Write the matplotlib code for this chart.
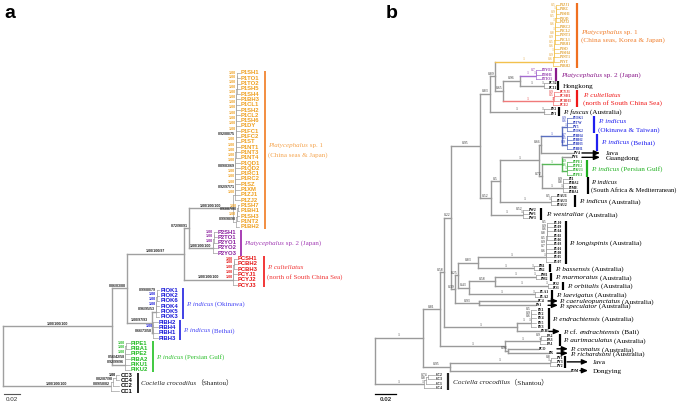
import matplotlib
matplotlib.use('Agg')
import matplotlib.pyplot as plt
from matplotlib.collections import LineCollection
from matplotlib.transforms import offset_copy

SANS = ['Liberation Sans', 'DejaVu Sans']
SERIF = ['Liberation Serif', 'Noto Sans CJK SC', 'DejaVu Serif']

# ---------------- panel a : tips top to bottom, ladder supports ----------------
A_P1 = ['P1SH1', 'P1TO1', 'P1TO2', 'P1SH5', 'P1SH4', 'P1BH3', 'P1CL1', 'P1SH2',
        'P1CL2', 'P1SH6', 'P1DY', 'P1FC1', 'P1FC2', 'P1ST', 'P1NT1', 'P1NT3',
        'P1NT4', 'P1QD1', 'P1QD2', 'P1RC1', 'P1RC2', 'P1SZ', 'P1XM', 'P1ZJ1',
        'P1ZJ2', 'P1SH7', 'P1BH1', 'P1SH3', 'P1NT2', 'P1BH2']
A_P1_SUP = ['1.00', '1.00', '1.00', '1.00', '1.00', '1.00', '1.00', '1.00',
            '1.00', '1.00', '1.00', '1.00', '0.92/88/75', '1.00', '1.00', '1.00',
            '1.00', '1.00', '0.89/83/69', '1.00', '1.00', '1.00', '0.92/97/71', '1.00',
            '1.00', '0.93/87/98', '1.00', '0.99/98/98']
A_P2 = ['P2SH1', 'P2TO1', 'P2YO1', 'P2YO2', 'P2YO3']
A_P2_SUP = ['1.00', '1.00', '1.00', '']
A_PC = ['PCSH1', 'PCBH2', 'PCBH3', 'PCYJ1', 'PCYJ2', 'PCYJ3']
A_PC_SUP = ['1.00', '1.00', '1.00', '1.00', '1.00']
A_OK = ['PIOK1', 'PIOK2', 'PIOK6', 'PIOK4', 'PIOK5', 'PIOK3']
A_OK_SUP = ['0.99/80/79', '1.00', '1.00', '1.00', '']
A_BH = ['PIBH2', 'PIBH4', 'PIBH1', 'PIBH3']
A_BH_SUP = ['', '1.00', '']
A_PG = ['PIPE1', 'PIBA1', 'PIPE2', 'PIBA2', 'PIKU1', 'PIKU2']
A_PG_SUP = ['1.00', '1.00', '1.00', '0.56/42/58', '']
A_CC = ['CC3', 'CC4', 'CC2', 'CC1']
A_CC_SUP = ['1.00', '0.82/87/98', '0.89/58/82']

# ---------------- panel b ----------------
B_P1 = ['P1ZJ1', 'P1RC', 'P1SH1', 'P1QD', 'P1ZJ2', 'P1RC2', 'P1CL2', 'P1NT3',
        'P1CL1', 'P1BH1', 'P1SD', 'P1SH4', 'P1NT1', 'P1YT', 'P1BH2']
B_P1_SUP = ['0.5', '1', '0.9', '0.5', '1', '0.6', '1', '0.8', '0.9', '0.5',
            '0.6', '1', '0.9', '0.6']
B_P2 = ['P2YO2', 'P2SH1', 'P2TO1']
B_P2_SUP = ['0.7', '1']
B_HK = ['PC32', 'PC11']
B_HK_SUP = ['1']
B_PC = ['PCYJ1', 'PCSH1', 'PCBH3', 'PCE2']
B_PC_SUP = ['0.9', '0.5', '1']
B_FU = ['PF2', 'PF1']
B_FU_SUP = ['1']
B_OK = ['PIOK1', 'PITW', 'PY5', 'PIOK2']
B_OK_SUP = ['0.9', '0.6', '1']
B_BH = ['PIBH4', 'PIBH2', 'PIBH3', 'PIBH1']
B_BH_SUP = ['0.7', '0.5', '0.9']
B_PG = ['PIPE1', 'PIPE2', 'PIKU1', 'PIPE3']
B_PG_SUP = ['0.9', '0.6', '1']
B_AFR = ['PI1', 'PIBA2', 'PIME', 'PIBA1']
B_AFR_SUP = ['0.9', '0.8', '1']
B_AUS = ['PIAU1', 'PIAU3', 'PIAU2']
B_AUS_SUP = ['0.5', '1']
B_WES = ['PW2', 'PW1', 'PW3']
B_WES_SUP = ['0.52', '1']
B_LON = ['PL10', 'PL09', 'PL04', 'PL02', 'PL06', 'PL03', 'PL01', 'PL08', 'PL05', 'PL07']
B_LON_SUP = ['0.5', '0.9', '0.6', '0.8', '0.5', '0.9', '0.7', '0.6', '1']
B_BAS = ['PB1', 'PB2']
B_BAS_SUP = ['1']
B_MAR = ['PM1', 'PM2']
B_MAR_SUP = ['1']
B_ORB = ['PO2', 'PO1']
B_ORB_SUP = ['1']
B_LAE = ['PLA1', 'PLA2']
B_LAE_SUP = ['1']
B_END = ['PE1', 'PE2', 'PE4', 'PE5', 'PE3']
B_END_SUP = ['0.5', '0.9', '0.6', '1']
B_AUR = ['PA2', 'PA3', 'PA1']
B_AUR_SUP = ['0.9', '1']
B_JAVA = ['PY1', 'PY3', 'PY2']
B_JAVA_SUP = ['0.8', '1']
B_CC = ['CC2', 'CC3', 'CC1', 'CC4']
B_CC_SUP = ['0.74', '0.8', '1']


def tip(name, bl, key=None):
    return {'name': name, 'bl': bl, 'kids': [], 'key': key, 'inner': False, 'sup': ''}


def node(kids, bl, sup='', key=None):
    return {'bl': bl, 'sup': sup, 'kids': kids, 'key': key, 'inner': False}


def comb(names, sups, bl, depth, step, key):
    # caterpillar: first two names join first, last name joins at the root
    if len(names) == 1:
        return {'name': names[0], 'bl': bl + depth, 'kids': [], 'key': key,
                'inner': True, 'sup': ''}
    sub = comb(names[:-1], sups[:-1], step, depth - step, step, key)
    last = {'name': names[-1], 'bl': depth, 'kids': [], 'key': key, 'inner': True, 'sup': ''}
    return {'bl': bl, 'sup': sups[-1], 'kids': [sub, last], 'key': key, 'inner': True}


def group(names, sups, bl, sup, key, depth, step=0.0002):
    return node([comb(names, sups, 0.0005, depth, step, key)], bl, sup, key)


def build_a():
    p1 = node([comb(A_P1[:25], A_P1_SUP[:24], 0.0025, 0.006, 0.0001, 'P1'),
               comb(A_P1[25:], A_P1_SUP[24:], 0.004, 0.004, 0.0006, 'P1')],
              0.055, '1.00/100/100', 'P1')
    p2 = group(A_P2, A_P2_SUP, 0.030, '1.00/100/100', 'P2', 0.004)
    d = node([p1, p2], 0.0063, '0.72/90/91')
    pc = group(A_PC, A_PC_SUP, 0.061, '1.00/100/100', 'PC', 0.005)
    c = node([d, pc], 0.0713, '1.00/100/97')
    ok = group(A_OK, A_OK_SUP, 0.005, '0.96/95/53', 'OK', 0.004)
    bh = group(A_BH, A_BH_SUP, 0.0013, '0.66/73/58', 'BH', 0.006)
    ind = node([ok, bh], 0.031, '1.00/97/93')
    b = node([c, ind], 0.0188, '0.86/83/88')
    pg = group(A_PG, A_PG_SUP, 0.016, '0.92/99/96', 'PG', 0.006)
    ing = node([b, pg], 0.136, '1.00/100/100')
    cc = group(A_CC, A_CC_SUP, 0.134, '1.00/100/100', 'CC', 0.011, step=0.0035)
    return node([ing, cc], 0.0)


def build_b():
    p1 = group(B_P1, B_P1_SUP, 0.0552, '1', 'P1', 0.0048)
    p2 = group(B_P2, B_P2_SUP, 0.0143, '1', 'P2', 0.0048)
    hk = group(B_HK, B_HK_SUP, 0.0219, '1', None, 0.004)
    pc = group(B_PC, B_PC_SUP, 0.0476, '1', 'PC', 0.0048)
    fu = group(B_FU, B_FU_SUP, 0.0514, '1', None, 0.0048)
    n096 = node([p2, hk], 0.0162, '0.96')
    n065 = node([n096, pc], 0.0076, '0.65')
    n089 = node([p1, n065], 0.0048, '0.89')
    n083 = node([n089, fu], 0.0095, '0.83')
    ok = group(B_OK, B_OK_SUP, 0.0038, '', 'BL', 0.0048)
    bh = group(B_BH, B_BH_SUP, 0.0038, '', 'BL', 0.0048)
    blue = node([ok, bh], 0.020, '1', 'BL')
    n066 = node([blue, tip('PV4', 0.0305)], 0.0019, '0.66')
    pg = group(B_PG, B_PG_SUP, 0.0038, '', 'PG', 0.0048)
    pgg = node([tip('PY6', 0.0086), pg], 0.019, '1', 'PG')
    afr = group(B_AFR, B_AFR_SUP, 0.019, '1', None, 0.0048)
    n072 = node([pgg, afr], 0.0029, '0.72')
    n1 = node([n066, n072], 0.0371, '1')
    aus = group(B_AUS, B_AUS_SUP, 0.0476, '1', None, 0.0048)
    n05 = node([n1, aus], 0.0086, '0.5')
    wes = group(B_WES, B_WES_SUP, 0.0295, '1', None, 0.0048)
    n052 = node([n05, wes], 0.0105, '0.52')
    n095 = node([n083, n052], 0.0276, '0.95')
    lon = group(B_LON, B_LON_SUP, 0.0638, '1', None, 0.0067)
    bas = group(B_BAS, B_BAS_SUP, 0.0524, '1', None, 0.0038)
    n083b = node([lon, bas], 0.019, '0.83')
    mar = group(B_MAR, B_MAR_SUP, 0.0381, '1', None, 0.0038)
    orb = group(B_ORB, B_ORB_SUP, 0.0495, '1', None, 0.0038)
    n058b = node([mar, orb], 0.0248, '0.58')
    lae = group(B_LAE, B_LAE_SUP, 0.0619, '1', None, 0.0038)
    n043 = node([n058b, lae], 0.0105, '0.43')
    n025 = node([n083b, n043], 0.0029, '0.25')
    n093 = node([tip('PC4', 0.0552), tip('PS1', 0.0533)], 0.0229, '0.93')
    n039 = node([n025, n093], 0.0038, '0.39')
    n022 = node([n095, n039], 0.0067, '0.22')
    end = group(B_END, B_END_SUP, 0.0124, '1', None, 0.0057)
    endg = node([end, tip('PEB1', 0.0219)], 0.0695, '1')
    n058 = node([n022, endg], 0.0038, '0.58')
    aur = group(B_AUR, B_AUR_SUP, 0.0333, '1', None, 0.0048)
    n096c = node([tip('PCO', 0.0286), tip('PR', 0.0381)], 0.0029, '0.96')
    aurg = node([aur, n096c], 0.0619, '1')
    n081 = node([n058, aurg], 0.0162, '0.81')
    java = group(B_JAVA, B_JAVA_SUP, 0.0952, '1', None, 0.0057)
    n095j = node([java, tip('PDM', 0.1143)], 0.0257, '0.95')
    ing = node([n081, n095j], 0.0457, '1')
    cc = group(B_CC, B_CC_SUP, 0.0457, '1', None, 0.0105, step=0.002)
    return node([ing, cc], 0.0)


def layout(n, x0, count):
    n['x'] = x0 + n['bl']
    if not n['kids']:
        n['y'] = count[0]
        count[0] += 1
        return
    for k in n['kids']:
        layout(k, n['x'], count)
    n['y'] = (n['kids'][0]['y'] + n['kids'][-1]['y']) / 2


fig = plt.figure(figsize=(6.85, 4.04), dpi=100)
renderer = fig.canvas.get_renderer()


def text_width(ax, t):
    bb = t.get_window_extent(renderer)
    inv = ax.transData.inverted()
    return inv.transform((bb.x1, bb.y0))[0] - inv.transform((bb.x0, bb.y0))[0]


def draw_tree(ax, root, st):
    segs, cols, lws = [], [], []
    tip_y = {}

    def walk(n, px):
        col = st['line'].get(n['key'], st['line_default'])
        if n is not root:
            segs.append([(px, n['y']), (n['x'], n['y'])])
            cols.append(col)
            lws.append(st['lw_in'] if n['inner'] else st['lw'])
        if not n['kids']:
            tip_y[n['name']] = n['y']
            ax.text(n['x'] + st['pad'], n['y'], n['name'], ha='left', va='center',
                    fontsize=st['tip_size'], family=st['tip_family'], fontweight='bold',
                    color=st['tip_color'].get(n['key'], 'black'))
            return
        kids = n['kids']
        if len(kids) > 1:
            segs.append([(n['x'], kids[0]['y']), (n['x'], kids[-1]['y'])])
            cols.append(col)
            lws.append(st['lw_in'] if all(k['inner'] for k in kids) else st['lw'])
        for k in kids:
            walk(k, n['x'])
        if n['sup']:
            if n['key'] and '/' not in n['sup']:
                c = st['sup_color'].get(n['key'], st['sup_default'])
            else:
                c = st['sup_default']
            t = ax.text((px + n['x']) / 2, n['y'] - st['voff'], n['sup'], ha='center',
                        va='bottom', fontsize=st['sup_size'], family=st['sup_family'],
                        fontweight=st['sup_weight'], color=c)
            if text_width(ax, t) > (n['x'] - px):
                t.set_ha('right')
                t.set_x(n['x'] - st['pad'] * 0.5)

    walk(root, root['x'])
    ax.add_collection(LineCollection(segs, colors=cols, linewidths=lws,
                                     capstyle='projecting'))
    return tip_y


def rich(ax, x, y, parts, color, size):
    # baseline placed so the line is centred on y
    tr = offset_copy(ax.transData, fig=fig, x=0, y=-0.33 * size, units='points')
    for s, style in parts:
        t = ax.text(x, y, s, ha='left', va='baseline', fontsize=size, family=SERIF,
                    fontstyle=style, color=color, transform=tr)
        x = x + text_width(ax, t)


def annotate(ax, tip_y, items, size, line_h, bar_lw):
    for it in items:
        y0, y1 = tip_y[it['first']], tip_y[it['last']]
        ym = (y0 + y1) / 2
        if 'bar' in it:
            ax.plot([it['bar'], it['bar']], [y0 - 0.45, y1 + 0.45], color=it.get('bc', it['c']),
                    lw=bar_lw, solid_capstyle='butt')
        if 'arrow' in it:
            ax.annotate('', xy=(it['arrow'][1], ym), xytext=(it['arrow'][0], ym),
                        arrowprops=dict(arrowstyle='-|>,head_length=0.7,head_width=0.3',
                                        color='black', lw=1.0, shrinkA=0, shrinkB=0,
                                        mutation_scale=5))
        n = len(it['lines'])
        for i, parts in enumerate(it['lines']):
            rich(ax, it['tx'], ym + (i - (n - 1) / 2) * line_h, parts, it['c'],
                 it.get('size', size))


# ---------------- panel a ----------------
ax_a = fig.add_axes([0, 0, 340 / 685, 1])
ax_a.set_xlim(-0.00375, 0.42125)
ax_a.set_ylim(62.45, -13.77)
ax_a.axis('off')

tree_a = build_a()
layout(tree_a, 0.0, [0])
style_a = dict(line={}, line_default='#a0a0a0', lw=1.0, lw_in=0.5, pad=0.0012,
               tip_size=4.2, tip_family=SANS,
               tip_color={'P1': '#EFA020', 'P2': '#8A1E9E', 'PC': '#E51515',
                          'OK': '#1515D8', 'BH': '#1515D8', 'PG': '#22BB22', 'CC': 'black'},
               sup_size=2.6, sup_family=SANS, sup_weight='bold', sup_default='#222222',
               sup_color={'P1': '#EFA020', 'P2': '#8A1E9E', 'PC': '#E51515',
                          'OK': '#1515D8', 'BH': '#1515D8', 'PG': '#22BB22', 'CC': 'black'},
               voff=0.12)
ya = draw_tree(ax_a, tree_a, style_a)

annot_a = [
    dict(first='P1SH1', last='P1BH2', bar=0.3275, tx=0.331, c='#F5A550', bc='#F07A20',
         lines=[[('Platycephalus', 'italic'), (' sp. 1', 'normal')],
                [('(China seas & Japan)', 'normal')]]),
    dict(first='P2SH1', last='P2YO3', bar=0.2975, tx=0.301, c='#A23CB4', bc='#9A1FA8',
         lines=[[('Platycephalus', 'italic'), (' sp. 2 (Japan)', 'normal')]]),
    dict(first='PCSH1', last='PCYJ3', bar=0.326, tx=0.33, c='#F03535', bc='#F01515',
         lines=[[('P. cultellatus', 'italic')], [('(north of South China Sea)', 'normal')]]),
    dict(first='PIOK1', last='PIOK3', bar=0.225, tx=0.229, c='#4545F5', bc='#2020E0',
         lines=[[('P. indicus', 'italic'), (' (Okinawa)', 'normal')]]),
    dict(first='PIBH2', last='PIBH3', bar=0.221, tx=0.225, c='#4545F5', bc='#2020E0',
         lines=[[('P. indicus', 'italic'), (' (Beihai)', 'normal')]]),
    dict(first='PIPE1', last='PIKU2', bar=0.1875, tx=0.191, c='#30C030', bc='#20C020',
         lines=[[('P. indicus', 'italic'), (' (Persian Gulf)', 'normal')]]),
    dict(first='CC3', last='CC1', bar=0.169, tx=0.173, c='#222222', bc='black',
         lines=[[('Cociella crocodilus', 'italic'), ('（Shantou）', 'normal')]]),
]
annotate(ax_a, ya, annot_a, 5.0, 1.85, 1.2)

ax_a.plot([0.00125, 0.02125], [0.025, 0.025], color='#555555', lw=0.8,
          transform=ax_a.get_xaxis_transform())
ax_a.text(0.01125, 0.018, '0.02', ha='center', va='top', fontsize=4.5, family=SANS,
          color='#333333', transform=ax_a.get_xaxis_transform())

# ---------------- panel b ----------------
ax_b = fig.add_axes([340 / 685, 0, 345 / 685, 1])
ax_b.set_xlim(-0.03333, 0.29524)
ax_b.set_ylim(91.68, -1.15)
ax_b.axis('off')

tree_b = build_b()
layout(tree_b, 0.0, [0])
style_b = dict(line={'P1': '#F2C14E', 'P2': '#A46BD0', 'PC': '#F07A7A',
                     'BL': '#5A6FC0', 'PG': '#58B858'},
               line_default='#9a9a9a', lw=1.0, lw_in=0.5, pad=0.0009,
               tip_size=2.6, tip_family=SERIF,
               tip_color={'P1': '#E0A030', 'P2': '#8A2BA8', 'PC': '#E02828',
                          'BL': '#2233BB', 'PG': '#22AA22'},
               sup_size=2.7, sup_family=SERIF, sup_weight='normal', sup_default='#333333',
               sup_color={'P1': '#E0A030', 'P2': '#8A2BA8', 'PC': '#E02828',
                          'BL': '#2233BB', 'PG': '#22AA22'},
               voff=0.12)
yb = draw_tree(ax_b, tree_b, style_b)

K = 'black'
annot_b = [
    dict(first='P1ZJ1', last='P1BH2', bar=0.1924, tx=0.1962, c='#F08030', bc='#F07020',
         lines=[[('Platycephalus', 'italic'), (' sp. 1', 'normal')],
                [('(China seas, Korea & Japan)', 'normal')]]),
    dict(first='P2YO2', last='P2TO1', bar=0.1724, tx=0.1771, c='#8B1A8B', bc='#8B1A8B',
         lines=[[('Platycephalus', 'italic'), (' sp. 2 (Japan)', 'normal')]]),
    dict(first='PC32', last='PC11', bar=0.1743, tx=0.179, c=K,
         lines=[[('Hongkong', 'normal')]]),
    dict(first='PCYJ1', last='PCE2', bar=0.1924, tx=0.198, c='#F01818',
         lines=[[('P. cultellatus', 'italic')], [('(north of South China Sea)', 'normal')]]),
    dict(first='PF2', last='PF1', bar=0.1752, tx=0.179, c=K,
         lines=[[('P. fuscus', 'italic'), (' (Australia)', 'normal')]]),
    dict(first='PIOK1', last='PIOK2', bar=0.2086, tx=0.2124, c='#2020F0',
         lines=[[('P. indicus', 'italic')], [('(Okinawa & Taiwan)', 'normal')]]),
    dict(first='PIBH4', last='PIBH1', bar=0.2114, tx=0.2152, c='#2020F0',
         lines=[[('P. indicus', 'italic'), (' (Beihai)', 'normal')]]),
    dict(first='PV4', last='PV4', arrow=(0.1971, 0.2143), tx=0.22, c=K,
         lines=[[('Java', 'normal')]]),
    dict(first='PY6', last='PY6', arrow=(0.1971, 0.2143), tx=0.22, c=K,
         lines=[[('Guangdong', 'normal')]]),
    dict(first='PIPE1', last='PIPE3', bar=0.2019, tx=0.2057, c='#20B020',
         lines=[[('P. indicus', 'italic'), (' (Persian Gulf)', 'normal')]]),
    dict(first='PI1', last='PIBA1', bar=0.2029, tx=0.2057, c=K, size=4.8,
         lines=[[('P. indicus', 'italic')], [('(South Africa & Mediterranean)', 'normal')]]),
    dict(first='PIAU1', last='PIAU2', bar=0.1905, tx=0.1943, c=K,
         lines=[[('P. indicus', 'italic'), (' (Australia)', 'normal')]]),
    dict(first='PW2', last='PW3', bar=0.1581, tx=0.1629, c=K,
         lines=[[('P. westraliae', 'italic'), (' (Australia)', 'normal')]]),
    dict(first='PL10', last='PL07', bar=0.1819, tx=0.1848, c=K,
         lines=[[('P. longispinis', 'italic'), (' (Australia)', 'normal')]]),
    dict(first='PB1', last='PB2', bar=0.1667, tx=0.1714, c=K,
         lines=[[('P. bassensis', 'italic'), (' (Australia)', 'normal')]]),
    dict(first='PM1', last='PM2', bar=0.1676, tx=0.1714, c=K,
         lines=[[('P. marmoratus', 'italic'), (' (Australia)', 'normal')]]),
    dict(first='PO2', last='PO1', bar=0.179, tx=0.1829, c=K,
         lines=[[('P. orbitalis', 'italic'), (' (Australia)', 'normal')]]),
    dict(first='PLA1', last='PLA2', bar=0.1686, tx=0.1724, c=K,
         lines=[[('P. laevigatus', 'italic'), (' (Australia)', 'normal')]]),
    dict(first='PC4', last='PC4', arrow=(0.1648, 0.1743), tx=0.1752, c=K,
         lines=[[('P. caeruleopunctatus', 'italic'), (' (Australia)', 'normal')]]),
    dict(first='PS1', last='PS1', arrow=(0.1648, 0.1743), tx=0.1752, c=K,
         lines=[[('P. speculator', 'italic'), (' (Australia)', 'normal')]]),
    dict(first='PE1', last='PE3', bar=0.1657, tx=0.1686, c=K,
         lines=[[('P. endrachtensis', 'italic'), (' (Australia)', 'normal')]]),
    dict(first='PEB1', last='PEB1', arrow=(0.1657, 0.1762), tx=0.179, c=K,
         lines=[[('P.', 'italic'), (' cf. ', 'normal'), ('endrachtensis', 'italic'),
                 (' (Bali)', 'normal')]]),
    dict(first='PA2', last='PA1', bar=0.1762, tx=0.179, c=K,
         lines=[[('P. aurimaculatus', 'italic'), (' (Australia)', 'normal')]]),
    dict(first='PCO', last='PCO', arrow=(0.1733, 0.1838), tx=0.1857, c=K,
         lines=[[('P. conatus', 'italic'), (' (Australia)', 'normal')]]),
    dict(first='PR', last='PR', arrow=(0.1733, 0.1838), tx=0.1857, c=K,
         lines=[[('P. richardsoni', 'italic'), (' (Australia)', 'normal')]]),
    dict(first='PY1', last='PY2', bar=0.181, arrow=(0.1829, 0.2029), tx=0.2076, c=K,
         lines=[[('Java', 'normal')]]),
    dict(first='PDM', last='PDM', arrow=(0.1952, 0.2029), tx=0.2076, c=K,
         lines=[[('Dongying', 'normal')]]),
    dict(first='CC2', last='CC4', bar=0.0695, tx=0.0743, c='#222222',
         lines=[[('Cociella crocodilus', 'italic'), ('（Shantou）', 'normal')]]),
]
annotate(ax_b, yb, annot_b, 5.2, 1.9, 1.6)

ax_b.plot([0.0, 0.02], [0.025, 0.025], color='black', lw=0.9,
          transform=ax_b.get_xaxis_transform())
ax_b.text(0.01, 0.018, '0.02', ha='center', va='top', fontsize=4.5, family=SANS,
          fontweight='bold', color='#333333', transform=ax_b.get_xaxis_transform())

fig.text(4 / 685, 1 - 14 / 404, 'a', fontsize=14, fontweight='bold', family=SANS,
         va='center', ha='left')
fig.text(386 / 685, 1 - 14 / 404, 'b', fontsize=14, fontweight='bold', family=SANS,
         va='center', ha='left')

fig.savefig('out.png', dpi=100)
